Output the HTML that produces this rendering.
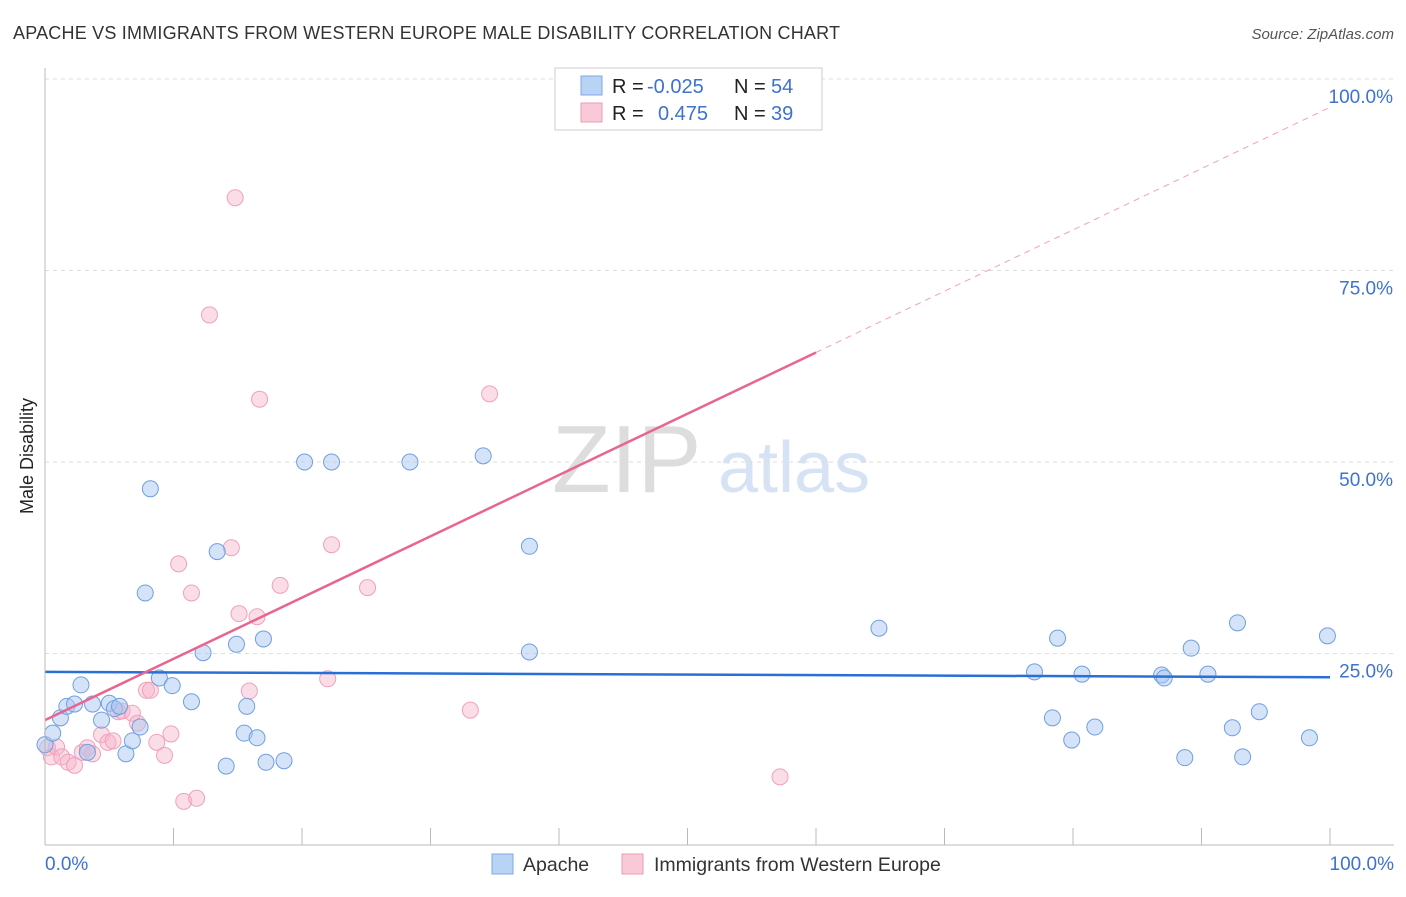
<!DOCTYPE html>
<html><head><meta charset="utf-8"><style>
body{margin:0;background:#fff;font-family:"Liberation Sans",sans-serif;}
svg text{font-family:"Liberation Sans",sans-serif;}
</style></head><body>
<svg id="chart" width="1406" height="892">
<text x="13" y="39" font-size="18" fill="#333" textLength="827">APACHE VS IMMIGRANTS FROM WESTERN EUROPE MALE DISABILITY CORRELATION CHART</text>
<text x="1394" y="39" font-size="15" fill="#555" font-style="italic" text-anchor="end">Source: ZipAtlas.com</text>
<text x="33" y="456" font-size="18" fill="#222" transform="rotate(-90 33 456)" text-anchor="middle">Male Disability</text>
<text x="552" y="492" font-size="96" fill="#ddd" font-family="Liberation Serif">ZIP</text>
<text x="718" y="492" font-size="72" fill="#d5e3f5">atlas</text>
<g id="grid"></g><g id="ticks"></g><g id="pts"></g><g id="lines"></g>
<line x1="45" y1="68" x2="45" y2="845" stroke="#bbb"/>
<line x1="45" y1="845" x2="1394" y2="845" stroke="#bbb"/>
<text x="45" y="870" font-size="19" fill="#3d72d0">0.0%</text>
<text x="1394" y="870" font-size="19" fill="#3d72d0" text-anchor="end">100.0%</text>
<g>
<rect x="555" y="68" width="267" height="62" fill="#fff" stroke="#ccc"/>
<rect x="581" y="76" width="21" height="19" fill="#b9d3f5" stroke="#7fa9e6"/>
<rect x="581" y="103" width="21" height="19" fill="#f9c9d8" stroke="#ef9ab5"/>
<text x="612" y="93" font-size="20" fill="#222">R = <tspan fill="#3d72d0" x="647">-0.025</tspan></text>
<text x="734" y="93" font-size="20" fill="#222">N = <tspan fill="#3d72d0" x="771">54</tspan></text>
<text x="612" y="120" font-size="20" fill="#222">R = <tspan fill="#3d72d0" x="658">0.475</tspan></text>
<text x="734" y="120" font-size="20" fill="#222">N = <tspan fill="#3d72d0" x="771">39</tspan></text>
</g>
<g>
<rect x="492" y="854" width="21" height="20" fill="#b9d3f5" stroke="#7fa9e6"/>
<text x="523" y="871" font-size="19.5" fill="#333">Apache</text>
<rect x="622" y="854" width="21" height="20" fill="#f9c9d8" stroke="#ef9ab5"/>
<text x="654" y="871" font-size="19.5" fill="#333">Immigrants from Western Europe</text>
</g>
</svg>
<script>
const yTicks=[25,50,75,100];
const xTicks=[10,20,30,40,50,60,70,80,90,100];
const apacheX=[0,0.6,1.2,1.7,2.3,2.8,3.3,3.7,4.4,5.0,5.4,5.8,6.3,6.8,7.4,7.8,8.2,8.9,9.9,11.4,12.3,13.4,14.1,14.9,15.5,15.7,16.5,17.0,17.2,18.6,20.2,22.3,28.4,34.1,37.7,37.7,64.9,77.0,78.4,78.8,79.9,80.7,81.7,86.9,87.1,88.7,89.2,90.5,92.4,92.8,93.2,94.5,98.4,99.8];
const apacheY=[13.1,14.6,16.6,18.1,18.4,20.9,12.1,18.4,16.3,18.5,17.8,18.1,11.9,13.6,15.4,32.9,46.5,21.8,20.8,18.7,25.1,38.3,10.3,26.2,14.6,18.1,14.0,26.9,10.8,11.0,50.0,50.0,50.0,50.8,39.0,25.2,28.3,22.6,16.6,27.0,13.7,22.3,15.4,22.2,21.8,11.4,25.7,22.3,15.3,29.0,11.5,17.4,14.0,27.3];
const immX=[0.2,0.5,0.9,1.3,1.8,2.3,2.9,3.3,3.7,4.4,4.9,5.3,5.7,6.0,6.8,7.2,7.9,8.2,8.7,9.3,9.8,10.4,10.8,11.4,11.8,12.8,14.5,14.8,15.1,15.9,16.5,16.7,18.3,22.0,22.3,25.1,33.1,34.6,47.6,57.2];
const immY=[12.7,11.5,12.8,11.5,10.8,10.4,12.1,12.7,11.9,14.4,13.4,13.6,17.4,17.5,17.2,15.9,20.2,20.2,13.4,11.7,14.5,36.7,5.7,32.9,6.1,69.2,38.8,84.5,30.2,20.1,29.8,58.2,33.9,21.7,39.2,33.6,17.6,58.9,100.1,8.9];
const apacheLine=[22.6,21.9];
const immLine=[16.3,96.3];
const immSolidEnd=60;
const NS='http://www.w3.org/2000/svg';
const X=v=>45+v*12.85, Y=v=>845-v*7.66;
function mk(t,a,p){const e=document.createElementNS(NS,t);for(const k in a)e.setAttribute(k,a[k]);document.getElementById(p).appendChild(e);return e;}
yTicks.forEach(t=>{
 const l=mk('line',{x1:45,x2:1394,y1:Y(t),y2:Y(t),stroke:'#ddd','stroke-dasharray':'4,4'},'grid');
 
 
 const tx=mk('text',{x:1393,y:Y(t)+24,'font-size':19,fill:'#3d72d0','text-anchor':'end'},'grid');
 tx.textContent=t.toFixed(1)+'%';
 
 
});
xTicks.forEach(t=>{
 const l=mk('line',{x1:X(t),x2:X(t),y1:828,y2:845,stroke:'#bbb'},'ticks');
 
 
});
immX.forEach((x,i)=>{
 const c=mk('circle',{cx:X(x),cy:Y(immY[i]),r:8,fill:'rgba(246,180,202,0.45)',stroke:'#f0a0bb','stroke-width':1},'pts');
 
 
});
apacheX.forEach((x,i)=>{
 const c=mk('circle',{cx:X(x),cy:Y(apacheY[i]),r:8,fill:'rgba(170,200,240,0.5)',stroke:'#6f9fe0','stroke-width':1},'pts');
 
 
});
const al=mk('line',{x1:X(0),y1:Y(apacheLine[0]),x2:X(100),y2:Y(apacheLine[1]),stroke:'#2a6fd6','stroke-width':2.5},'lines');


const mid=immLine[0]+(immLine[1]-immLine[0])*immSolidEnd/100;
const il=mk('line',{x1:X(0),y1:Y(immLine[0]),x2:X(immSolidEnd),y2:Y(mid),stroke:'#e8658f','stroke-width':2.5},'lines');


const id=mk('line',{x1:X(immSolidEnd),y1:Y(mid),x2:X(100),y2:Y(immLine[1]),stroke:'#f0a0bb','stroke-width':1,'stroke-dasharray':'6,5'},'lines');


</script>
</body></html>
